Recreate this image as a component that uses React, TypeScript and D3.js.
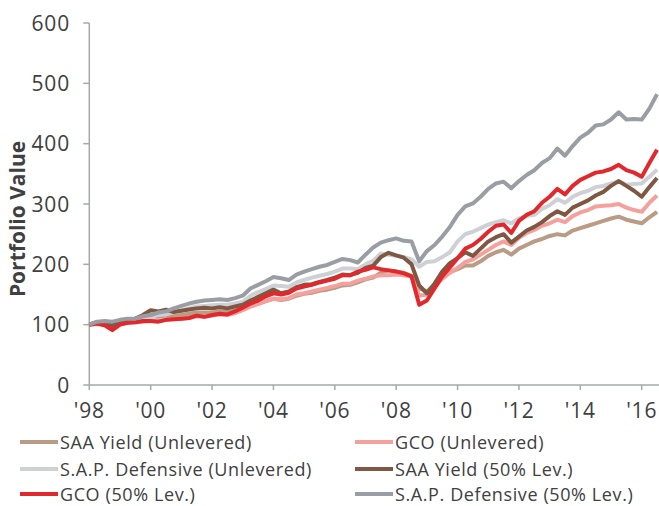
import React from "react";
import * as d3 from "d3";

const W = 659;
const H = 506;

// quarterly observation points (decimal years), Jan 1998 .. Jul 2016
const quarters: number[] = [
  1998.0, 1998.25, 1998.5, 1998.75, 1999.0, 1999.25, 1999.5, 1999.75,
  2000.0, 2000.25, 2000.5, 2000.75, 2001.0, 2001.25, 2001.5, 2001.75,
  2002.0, 2002.25, 2002.5, 2002.75, 2003.0, 2003.25, 2003.5, 2003.75,
  2004.0, 2004.25, 2004.5, 2004.75, 2005.0, 2005.25, 2005.5, 2005.75,
  2006.0, 2006.25, 2006.5, 2006.75, 2007.0, 2007.25, 2007.5, 2007.75,
  2008.0, 2008.25, 2008.5, 2008.75, 2009.0, 2009.25, 2009.5, 2009.75,
  2010.0, 2010.25, 2010.5, 2010.75, 2011.0, 2011.25, 2011.5, 2011.75,
  2012.0, 2012.25, 2012.5, 2012.75, 2013.0, 2013.25, 2013.5, 2013.75,
  2014.0, 2014.25, 2014.5, 2014.75, 2015.0, 2015.25, 2015.5, 2015.75,
  2016.0, 2016.25, 2016.5,
];

const saaYieldUnlev: number[] = [
  100, 103, 103, 99, 104, 106, 107, 110,
  114, 113, 115, 114, 116, 118, 120, 120,
  120, 122, 121, 123, 126, 131, 135, 139,
  143, 141, 143, 148, 151, 153, 156, 158,
  161, 165, 166, 170, 175, 178, 186, 190,
  188, 186, 181, 160, 155, 166, 178, 187,
  192, 198, 198, 205, 214, 220, 224, 216,
  226, 232, 238, 242, 247, 250, 248, 256,
  260, 264, 268, 272, 276, 279, 274, 271,
  268, 278, 287,
];

const gcoUnlev: number[] = [
  100, 101, 100, 96, 101, 103, 104, 105,
  106, 106, 108, 109, 110, 111, 114, 113,
  115, 117, 116, 119, 124, 130, 134, 139,
  143, 142, 144, 150, 152, 155, 158, 161,
  164, 168, 168, 173, 176, 180, 182, 182,
  183, 182, 180, 148, 150, 163, 176, 186,
  194, 204, 208, 216, 224, 232, 238, 232,
  244, 252, 257, 264, 268, 274, 270, 280,
  286, 290, 296, 297, 298, 300, 294, 290,
  287, 302, 314,
];

const sapDefUnlev: number[] = [
  100, 104, 105, 104, 106, 108, 108, 111,
  113, 116, 117, 121, 124, 127, 130, 131,
  132, 133, 133, 135, 138, 148, 154, 159,
  165, 164, 163, 170, 174, 178, 181, 184,
  188, 193, 193, 192, 200, 206, 218, 216,
  214, 212, 208, 196, 204, 205, 212, 220,
  238, 250, 254, 260, 266, 270, 273, 268,
  276, 280, 282, 292, 298, 308, 302, 312,
  318, 322, 328, 330, 334, 338, 332, 333,
  334, 345, 357,
];

const saaYieldLev: number[] = [
  100, 104, 104, 98, 105, 108, 110, 116,
  124, 122, 125, 121, 123, 125, 127, 128,
  127, 129, 127, 130, 133, 140, 146, 152,
  158, 152, 155, 162, 166, 167, 171, 174,
  178, 183, 182, 186, 194, 198, 212, 219,
  215, 211, 200, 165, 152, 168, 188, 202,
  210, 220, 214, 226, 238, 245, 250, 236,
  246, 256, 262, 270, 280, 288, 282, 294,
  300, 306, 314, 320, 330, 338, 330, 322,
  312, 328, 343,
];

const gcoLev: number[] = [
  100, 102, 99, 91, 100, 103, 104, 106,
  106, 105, 108, 109, 110, 111, 115, 113,
  116, 118, 117, 122, 128, 135, 140, 147,
  152, 150, 153, 160, 163, 166, 170, 173,
  176, 182, 182, 188, 191, 195, 192, 190,
  188, 185, 180, 133, 140, 160, 180, 195,
  210, 226, 232, 242, 254, 264, 266, 252,
  272, 282, 288, 302, 312, 325, 316, 330,
  340, 346, 352, 354, 358, 365, 356, 352,
  345, 368, 390,
];

const sapDefLev: number[] = [
  100, 105, 106, 105, 108, 110, 110, 114,
  116, 120, 122, 127, 131, 135, 138, 140,
  141, 142, 141, 144, 148, 160, 166, 172,
  179, 177, 174, 183, 188, 192, 196, 199,
  204, 209, 207, 203, 216, 228, 236, 240,
  243, 239, 238, 205, 222, 232, 246, 262,
  282, 296, 301, 312, 325, 334, 337, 326,
  338, 348, 356, 368, 376, 392, 380, 396,
  410, 418, 430, 432, 440, 452, 440, 441,
  440, 458, 482,
];

const seriesNames: string[] = [
  "SAA Yield (Unlevered)",
  "GCO (Unlevered)",
  "S.A.P. Defensive (Unlevered)",
  "SAA Yield (50% Lev.)",
  "GCO (50% Lev.)",
  "S.A.P. Defensive (50% Lev.)",
];
const seriesValues: number[][] = [
  saaYieldUnlev,
  gcoUnlev,
  sapDefUnlev,
  saaYieldLev,
  gcoLev,
  sapDefLev,
];
const seriesColors: string[] = [
  "#b99b86",
  "#f4a19d",
  "#cdd0d4",
  "#7e5843",
  "#e1282d",
  "#9a9ea4",
];

const yTicks: number[] = [0, 100, 200, 300, 400, 500, 600];
const xTicks: number[] = [1998, 2000, 2002, 2004, 2006, 2008, 2010, 2012, 2014, 2016];
const yTitle = "Portfolio Value";

const FONT = "'Open Sans', 'Noto Sans', sans-serif";
const TEXT = "#404040";
const AXIS = "#a5a8ac";

export default function App() {
  const x = d3.scaleLinear().domain([1998, 2016]).range([89.3, 641.7]);
  const y = d3.scaleLinear().domain([0, 600]).range([385, 23]);
  const line = d3
    .line<[number, number]>()
    .x((d) => x(d[0]))
    .y((d) => y(d[1]))
    .curve(d3.curveLinear);

  const legendCols = [20, 355];
  const legendRows = [442, 469, 494];

  return (
    <svg
      width={W}
      height={H}
      style={{ position: "absolute", left: 0, top: 0, background: "#fff" }}
      fontFamily={FONT}
    >
      {/* y axis */}
      <line x1={x(1998)} x2={x(1998)} y1={y(600)} y2={y(0)} stroke={AXIS} strokeWidth={1.5} />
      {yTicks.map((t) => (
        <g key={"y" + t}>
          <line x1={x(1998) - 6} x2={x(1998)} y1={y(t)} y2={y(t)} stroke={AXIS} strokeWidth={1.5} />
          <text
            x={70}
            y={y(t) + 7.5}
            textAnchor="end"
            fontSize={21}
            letterSpacing={0.8}
            fill={TEXT}
          >
            {t}
          </text>
        </g>
      ))}
      {/* x axis */}
      <line x1={x(1998)} x2={W} y1={y(0)} y2={y(0)} stroke={AXIS} strokeWidth={1.5} />
      {xTicks.map((t) => (
        <g key={"x" + t}>
          <line x1={x(t)} x2={x(t)} y1={y(0)} y2={y(0) + 5} stroke={AXIS} strokeWidth={1.5} />
          <text
            x={x(t)}
            y={418}
            textAnchor="middle"
            fontSize={21}
            letterSpacing={0.8}
            fill={TEXT}
          >
            {"'" + String(t).slice(2)}
          </text>
        </g>
      ))}
      {/* y title */}
      <text
        transform={`translate(25,219) rotate(-90)`}
        textAnchor="middle"
        fontSize={21}
        fontWeight={700}
        fill={TEXT}
      >
        {yTitle}
      </text>
      {/* lines */}
      {seriesValues.map((vals, i) => (
        <path
          key={"s" + i}
          d={line(vals.map((v, j) => [quarters[j], v] as [number, number])) || ""}
          fill="none"
          stroke={seriesColors[i]}
          strokeWidth={4}
          strokeLinejoin="round"
        />
      ))}
      {/* legend */}
      {seriesNames.map((name, i) => {
        const col = i % 2;
        const row = Math.floor(i / 2);
        const lx = legendCols[col];
        const ly = legendRows[row];
        return (
          <g key={"l" + i}>
            <line x1={lx} x2={lx + 38} y1={ly} y2={ly} stroke={seriesColors[i]} strokeWidth={4} />
            <text x={lx + 40} y={ly + 6.5} fontSize={18} letterSpacing={0.6} fill={TEXT}>
              {name}
            </text>
          </g>
        );
      })}
    </svg>
  );
}
